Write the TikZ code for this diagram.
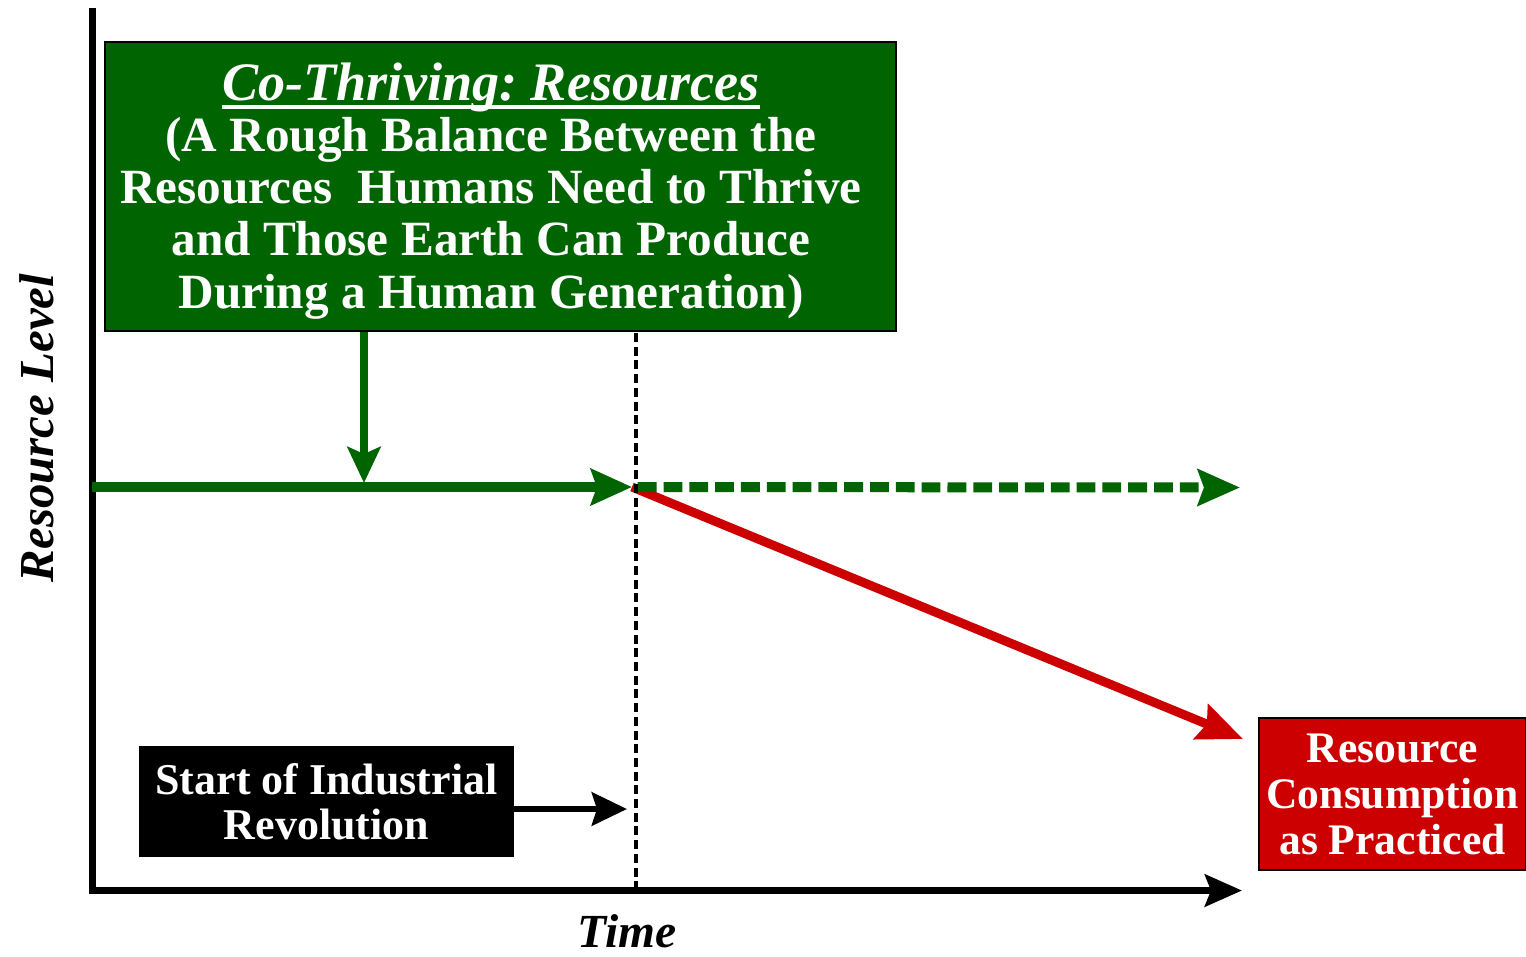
\documentclass[tikz,border=0pt]{standalone}
\usepackage{fontspec}
\setmainfont{Liberation Serif}
\usetikzlibrary{arrows.meta}
\definecolor{ChartGreen}{RGB}{0,100,0}
\definecolor{ChartRed}{RGB}{204,0,0}
\newsavebox{\ChartUlBox}
\newcommand{\ChartUline}[1]{\sbox{\ChartUlBox}{#1}\usebox{\ChartUlBox}\llap{\raisebox{-2.28pt}[0pt][0pt]{\rule{\wd\ChartUlBox}{1.14pt}}}}
\tikzset{/Chart/box/.style={
	shape=rectangle, draw=black, line width=0.6pt, text=white, align=center, inner sep=0pt
}}
\tikzset{/Chart/boxtext/.style={
	text=white, align=center, inner sep=0pt
}}
\tikzset{/Chart/axis/.style={
	line width=0.07cm, miter limit=4, -{Stealth[length=3.7mm, width=3.2mm, inset=0.6mm]}
}}
\tikzset{/Chart/level/.style={
	draw=ChartGreen, line width=0.1cm, -{Stealth[length=4.1mm, width=3.6mm, inset=0.6mm, fill=ChartGreen]}
}}
\tikzset{/Chart/drop/.style={
	draw=ChartRed, line width=0.09cm, -{Stealth[length=4.5mm, width=3.7mm, inset=0.6mm, fill=ChartRed]}
}}
\begin{document}
\begin{tikzpicture}[x=0.01cm, y=-0.01cm]
	\useasboundingbox (0,0) rectangle (1526,956);
	\coordinate (ytop) at (92.5,8);
	\coordinate (origin) at (92.5,890.5);
	\coordinate (xend) at (1242,890.5);
	\coordinate (lvl) at (92,487);
	\coordinate (ind) at (632,487);
	\coordinate (keep) at (1240,487.5);
	\coordinate (drop) at (1243,739);
	\coordinate (meet) at (364,483);
	\coordinate (indtop) at (636,333);
	\coordinate (indbot) at (636,889);
	\coordinate (irtip) at (627,809);
	% boxes
	\path node[/Chart/box, fill=ChartGreen, minimum width=7.91cm, minimum height=2.89cm] (cothrive) at (500.5,186.5) {};
	\path node[/Chart/boxtext, anchor=base, font=\fontsize{14}{14.8}\selectfont\bfseries\frenchspacing] (cothrivetext) at (491,308)
		{{\fontsize{15.4}{16}\selectfont\itshape\ChartUline{Co-Thriving: Resources}}\\[-0.3pt]
		(A Rough Balance Between the\\ Resources~ Humans Need to Thrive\\ and Those Earth Can Produce\\ During a Human Generation)};
	\path node[/Chart/box, fill=black, minimum width=3.73cm, minimum height=1.09cm, font=\fontsize{12.5}{12.8}\selectfont\bfseries] (industrial) at (326.5,801.5)
		{Start of Industrial\\ Revolution};
	\path node[/Chart/box, fill=ChartRed, minimum width=2.67cm, minimum height=1.52cm, font=\fontsize{12.4}{13.1}\selectfont\bfseries] (practiced) at (1392.5,794)
		{Resource\\ Consumption\\ as Practiced};
	\path node[inner sep=0pt, anchor=base, font=\fontsize{13.5}{14}\selectfont\bfseries\itshape] (time) at (627,947) {Time};
	\path node[font=\fontsize{13.9}{14}\selectfont\bfseries\itshape, rotate=90] (level) at (37,428) {Resource Level};
	% axes and lines
	\draw[/Chart/axis] (ytop) -- (origin) -- (xend);
	\draw[/Chart/drop] (ind) -- (drop);
	\draw[/Chart/level] (lvl) -- (ind);
	\draw[/Chart/level, dash pattern=on 0.188cm off 0.07cm, dash phase=0.201cm, -{Stealth[length=4.2mm, width=3.6mm, inset=0.6mm, fill=ChartGreen]}] (ind) -- (keep);
	\draw[/Chart/level, line width=0.075cm, -{Stealth[length=3.6mm, width=3.3mm, inset=0.7mm, fill=ChartGreen]}] (cothrive.south -| meet) -- (meet);
	\draw[line width=0.067cm, -{Stealth[length=3.5mm, width=3.3mm, inset=0.5mm]}] (industrial.east |- irtip) -- (irtip);
	\draw[line width=0.04cm, dash pattern=on 0.09cm off 0.047cm] (indtop) -- (indbot);
\end{tikzpicture}
\end{document}
